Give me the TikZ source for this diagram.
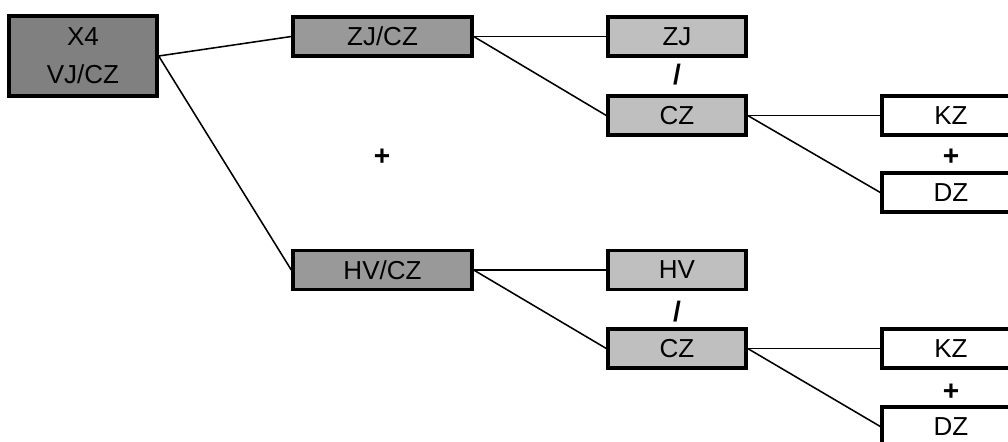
\documentclass[tikz,border=0pt]{standalone}
\usepackage{fontspec}
\setmainfont{Liberation Sans}
\usepackage{tikz}

\begin{document}
\begin{tikzpicture}[
    box/.style={draw, line width=2.4pt, minimum height=0.975cm, inner sep=0pt,
                font=\fontsize{18.5}{27}\selectfont},
    rootbox/.style={box, fill=black!50, minimum width=3.7cm, minimum height=2cm, align=center},
    midbox/.style={box, fill=black!40, minimum width=4.475cm},
    leafbox/.style={box, fill=black!25, minimum width=3.45cm},
    endbox/.style={box, fill=white, minimum width=3.45cm},
    sign/.style={font=\fontsize{20}{22}\bfseries\selectfont},
    link/.style={line width=1.1pt}
]
    \clip (0, 0) rectangle (25.2, -11.025);
    \useasboundingbox (0, 0) rectangle (25.2, -11.025);

    % Root
    \node[rootbox] (root) at (2.075, -1.4) {X4\\VJ/CZ};

    % Upper branch
    \node[midbox] (zjcz) at (9.5625, -0.9125) {ZJ/CZ};
    \node[leafbox] (zj) at (16.925, -0.9125) {ZJ};
    \node[sign] (div1) at (16.925, -1.875) {/};
    \node[leafbox] (cz1) at (16.925, -2.8875) {CZ};
    \node[endbox] (kz1) at (23.775, -2.8875) {KZ};
    \node[sign] (add1) at (23.775, -3.925) {+};
    \node[endbox] (dz1) at (23.775, -4.8125) {DZ};

    % Plus between the branches
    \node[sign] (add0) at (9.55, -3.925) {+};

    % Lower branch
    \node[midbox] (hvcz) at (9.5625, -6.75) {HV/CZ};
    \node[leafbox] (hv) at (16.925, -6.75) {HV};
    \node[sign] (div2) at (16.925, -7.8) {/};
    \node[leafbox] (cz2) at (16.925, -8.7125) {CZ};
    \node[endbox] (kz2) at (23.775, -8.7125) {KZ};
    \node[sign] (add2) at (23.775, -9.8) {+};
    \node[endbox] (dz2) at (23.775, -10.6625) {DZ};

    % Connectors
    \draw[link] (root.east) -- (zjcz.west);
    \draw[link] (root.east) -- (hvcz.west);
    \draw[link] (zjcz.east) -- (zj.west);
    \draw[link] (zjcz.east) -- (cz1.west);
    \draw[link] (cz1.east) -- (kz1.west);
    \draw[link] (cz1.east) -- (dz1.west);
    \draw[link] (hvcz.east) -- (hv.west);
    \draw[link] (hvcz.east) -- (cz2.west);
    \draw[link] (cz2.east) -- (kz2.west);
    \draw[link] (cz2.east) -- (dz2.west);
\end{tikzpicture}
\end{document}
